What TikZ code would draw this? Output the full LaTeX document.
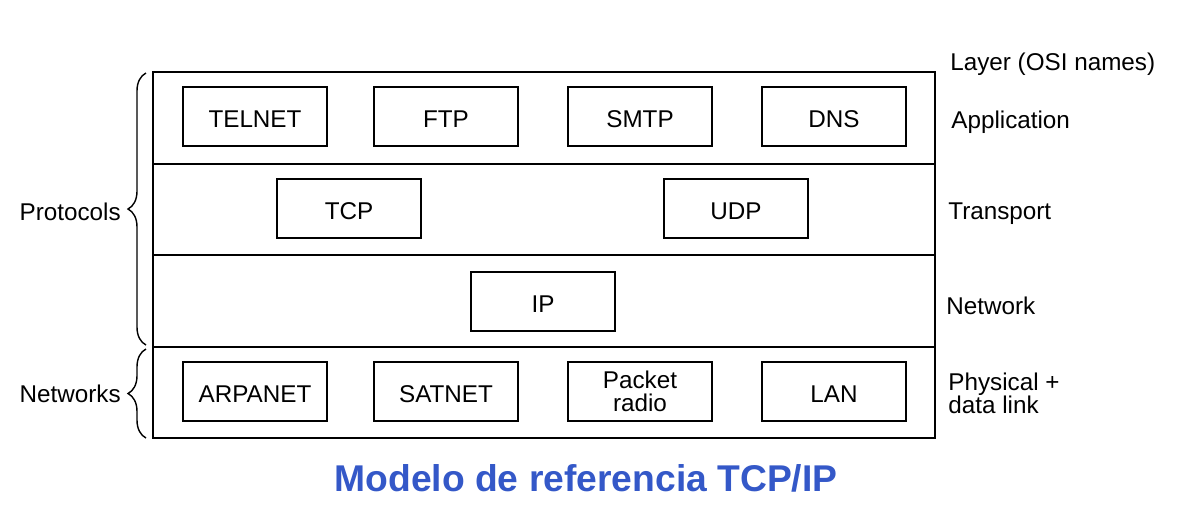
\documentclass[tikz,border=0pt]{standalone}
\usepackage{fontspec}
\setmainfont{Liberation Sans}
\usetikzlibrary{decorations.pathreplacing}
\definecolor{titleblue}{RGB}{52,88,200}
\tikzset{
	boxbase/.style={draw, line width=0.8pt, minimum width=2.88cm, minimum height=1.18cm, inner sep=0pt, align=center, font=\fontsize{13.8}{13}\selectfont},
	protobox/.style={boxbase, text height=0.45cm, text depth=0pt},
	layerlabel/.style={anchor=west, inner sep=0pt, align=left, font=\fontsize{13.8}{13}\selectfont},
	sidelabel/.style={anchor=east, inner sep=0pt, font=\fontsize{13.8}{16}\selectfont},
	bracket/.style={decorate, decoration={brace, amplitude=0.36cm}, line width=0.8pt}
}
\begin{document}
\begin{tikzpicture}[x=0.02cm, y=-0.02cm]
	\useasboundingbox (0,0) rectangle (1202,512); % keret
	\draw[line width=1pt] (153,72) rectangle (935,438); %külső keret
	\draw[line width=1pt] (153,164) -- (935,164) (153,255) -- (935,255) (153,347) -- (935,347); %rétegvonalak
	% application
	\node[protobox] (telnet) at (255,116.5) {TELNET};
	\node[protobox] (ftp) at (446,116.5) {FTP};
	\node[protobox] (smtp) at (640,116.5) {SMTP};
	\node[protobox] (dns) at (834,116.5) {DNS};
	% transport
	\node[protobox] (tcp) at (349,208.5) {TCP};
	\node[protobox] (udp) at (736,208.5) {UDP};
	% network
	\node[protobox] (ip) at (543,301.5) {IP};
	% physical
	\node[protobox] (arpanet) at (255,391.5) {ARPANET};
	\node[protobox] (satnet) at (446,391.5) {SATNET};
	\node[boxbase] (radio) at (640,391.5) {Packet\\radio};
	\node[protobox] (lan) at (834,391.5) {LAN};
	% OSI nevek
	\node[layerlabel] (osi) at (950,64) {Layer (OSI names)};
	\node[layerlabel] (app) at (951,122) {Application};
	\node[layerlabel] (trans) at (948,214) {Transport};
	\node[layerlabel] (net) at (946,306) {Network};
	\node[layerlabel] (phys) at (948,393) {Physical +\\data link};
	% kapcsos zárójelek
	\draw[bracket] (146,345) -- (146,73);
	\draw[bracket] (146,438) -- (146,349);
	\node[sidelabel] (protocols) at (121,212) {Protocols};
	\node[sidelabel] (networks) at (121,394) {Networks};
	% cím
	\node[font=\fontsize{21.2}{24}\selectfont\bfseries, text=titleblue, inner sep=0pt] (title) at (586,478) {Modelo de referencia TCP/IP};
\end{tikzpicture}
\end{document}
